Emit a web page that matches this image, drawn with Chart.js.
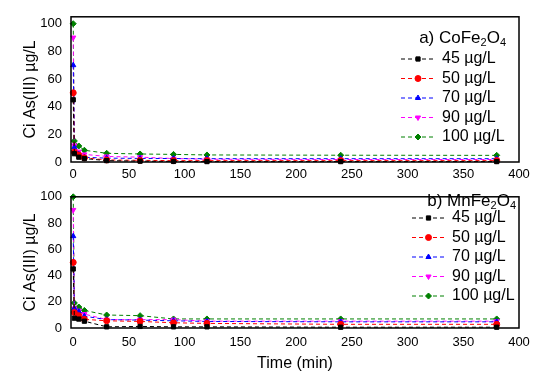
<!DOCTYPE html>
<html>
<head>
<meta charset="utf-8">
<script src="https://cdn.jsdelivr.net/npm/chart.js@4.4.1/dist/chart.umd.min.js"></script>
<style>
body { margin: 0; background: #fff; }
canvas { position: absolute; left: 0; }
</style>
</head>
<body>
<canvas id="grapA" width="550" height="180" style="top:0px"></canvas>
<canvas id="grapB" width="550" height="199" style="top:180px"></canvas>
<script>
// tiempos de muestreo (min)
var times = [0, 1, 5, 10, 30, 60, 90, 120, 240, 380];
var seriesLabels = ["45 µg/L", "50 µg/L", "70 µg/L", "90 µg/L", "100 µg/L"];
var yTicks = [0, 20, 40, 60, 80, 100];
var xTicks = [0, 50, 100, 150, 200, 250, 300, 350, 400];

// a) CoFe2O4
var co45  = [45, 6, 3.5, 2.5, 1, 0.6, 0.4, 0.3, 0.3, 0.3];
var co50  = [50, 7.2, 5, 3, 1.5, 1.2, 1, 1, 1, 1];
var co70  = [70, 10.8, 5.6, 3.4, 2.8, 2.6, 2.5, 2.4, 2.4, 2.4];
var co90  = [90, 12, 7.5, 5.5, 4, 3.5, 2.5, 2, 1.8, 1.8];
var co100 = [100, 15.2, 11.6, 8.5, 6.3, 5.8, 5.5, 5.1, 4.9, 4.8];

// b) MnFe2O4
var mn45  = [45, 7.5, 6.8, 5.2, 0.9, 1.2, 0.9, 0.9, 0.6, 0.6];
var mn50  = [50, 11.8, 9.4, 6.6, 5.5, 5, 4, 3.5, 2.8, 2.8];
var mn70  = [70, 15, 12.5, 9, 6.4, 6, 5.5, 5, 4.7, 4.7];
var mn90  = [90, 14.9, 13.2, 10.6, 6.4, 6.4, 6.4, 5.2, 5.2, 5.2];
var mn100 = [100, 19.1, 16, 13.4, 9.9, 9.4, 6.9, 6.9, 6.9, 6.9];

var colors = ["#000000", "#ff0000", "#0000ff", "#ff00ff", "#008000"];
var styles = ["rect", "circle", "triangle", "triangle", "rectRot"];
var rotations = [0, 0, 0, 180, 0];
var FONT = "'Liberation Sans', Arial, sans-serif";

function makeDatasets(arrs) {
    return arrs.map(function (vals, i) {
        return {
            label: seriesLabels[i],
            data: vals.map(function (v, k) { return { x: times[k], y: v }; }),
            borderColor: colors[i],
            backgroundColor: colors[i],
            borderWidth: 1,
            borderDash: [4, 3],
            pointStyle: styles[i],
            pointRotation: rotations[i],
            pointRadius: 3,
            pointBorderWidth: 1,
            showLine: true,
            clip: false
        };
    });
}

var boxPlugin = {
    id: "box",
    afterDatasetsDraw: function (chart) {
        var a = chart.chartArea, c = chart.ctx;
        c.save();
        c.strokeStyle = "#000";
        c.lineWidth = 1.5;
        c.strokeRect(a.left, a.top, a.right - a.left, a.bottom - a.top);
        c.restore();
    }
};

var legendPlugin = {
    id: "insideLegend",
    afterDraw: function (chart, args, opts) {
        var c = chart.ctx;
        c.save();
        c.fillStyle = "#000";
        c.textBaseline = "middle";
        // titulo con subindices
        var w = 0;
        opts.title.forEach(function (p) {
            c.font = p[1] + "px " + FONT;
            w += c.measureText(p[0]).width;
        });
        var x = opts.titleRight - w;
        opts.title.forEach(function (p) {
            c.font = p[1] + "px " + FONT;
            c.fillText(p[0], x, opts.titleY + p[2]);
            x += c.measureText(p[0]).width;
        });
        chart.data.datasets.forEach(function (ds, i) {
            var y = opts.rowY + i * opts.step;
            c.strokeStyle = ds.borderColor;
            c.lineWidth = 1;
            c.setLineDash([4, 3]);
            c.beginPath();
            c.moveTo(opts.lineX1, y);
            c.lineTo(opts.lineX2, y);
            c.stroke();
            c.setLineDash([]);
            c.fillStyle = ds.backgroundColor;
            Chart.helpers.drawPoint(c, {
                pointStyle: ds.pointStyle, radius: 3, rotation: ds.pointRotation, borderWidth: 1
            }, (opts.lineX1 + opts.lineX2) / 2, y);
            c.fillStyle = "#000";
            c.font = "16px " + FONT;
            c.fillText(ds.label, opts.textX, y);
        });
        c.restore();
    }
};

function keepTicks(list) {
    return function (scale) {
        scale.ticks = list.map(function (v) { return { value: v }; });
    };
}

function makeOptions(cfg) {
    return {
        responsive: false,
        animation: false,
        layout: { padding: { left: 0, right: 31, top: cfg.top, bottom: 0 } },
        plugins: {
            legend: { display: false },
            tooltip: { enabled: false },
            insideLegend: cfg.legend
        },
        scales: {
            x: {
                type: "linear",
                min: -2,
                max: 400,
                afterBuildTicks: keepTicks(xTicks),
                afterFit: function (s) { s.height = cfg.xHeight; },
                grid: { display: false, drawTicks: false },
                border: { display: false },
                ticks: { color: "#000", font: { size: 13, family: FONT }, padding: cfg.xPad, maxRotation: 0 },
                title: {
                    display: cfg.xTitle,
                    text: "Time (min)",
                    color: "#000",
                    font: { size: 16, family: FONT },
                    padding: { top: 0, bottom: 6 }
                }
            },
            y: {
                min: 0,
                max: cfg.yMax,
                afterBuildTicks: keepTicks(yTicks),
                afterFit: function (s) { s.width = 71; },
                grid: { display: false, drawTicks: false },
                border: { display: false },
                ticks: { color: "#000", font: { size: 13, family: FONT }, padding: 9 },
                title: {
                    display: true,
                    text: "Ci As(III) µg/L",
                    color: "#000",
                    font: { size: 16, family: FONT },
                    padding: { top: 21, bottom: 0 }
                }
            }
        }
    };
}

var chartA = new Chart(document.getElementById("grapA").getContext("2d"), {
    type: "scatter",
    data: { datasets: makeDatasets([co45, co50, co70, co90, co100]) },
    options: makeOptions({
        top: 16, xHeight: 18, xPad: 5, xTitle: false, yMax: 105,
        legend: {
            title: [["a) CoFe", 17, 0], ["2", 11, 5], ["O", 17, 0], ["4", 11, 5]],
            titleRight: 506, titleY: 38, rowY: 59, step: 19.5,
            lineX1: 401, lineX2: 435, textX: 442
        }
    }),
    plugins: [boxPlugin, legendPlugin]
});

var chartB = new Chart(document.getElementById("grapB").getContext("2d"), {
    type: "scatter",
    data: { datasets: makeDatasets([mn45, mn50, mn70, mn90, mn100]) },
    options: makeOptions({
        top: 2, xHeight: 51, xPad: 7, xTitle: true, yMax: 100,
        legend: {
            title: [["b) MnFe", 17, 0], ["2", 11, 5], ["O", 17, 0], ["4", 11, 5]],
            titleRight: 516, titleY: 21, rowY: 38, step: 19.5,
            lineX1: 412, lineX2: 445, textX: 452
        }
    }),
    plugins: [boxPlugin, legendPlugin]
});
</script>
</body>
</html>
